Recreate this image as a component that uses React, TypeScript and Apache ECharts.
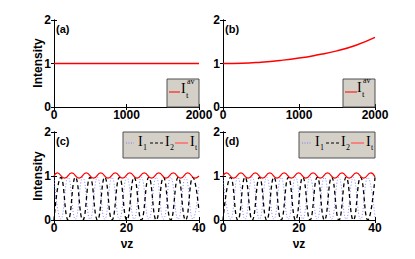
import React, { useEffect, useRef } from "react";
import * as echarts from "echarts";

// Panel (a): constant average intensity
const aX = [0, 500, 1000, 1500, 2000];
const aY = [1.0, 1.0, 1.0, 1.0, 1.0];
// Panel (b): slowly growing average intensity
const bX = [0, 250, 500, 750, 1000, 1250, 1500, 1750, 2000];
const bY = [1.0, 1.005, 1.03, 1.07, 1.125, 1.2, 1.29, 1.42, 1.6];

// Panel (c): I1 (dotted), I2 (dashed), It (solid), read at extrema
const cI1 = [[0, 0.97], [1.9, 0.02], [3.9, 0.97], [5.9, 0.02], [7.95, 0.97], [9.95, 0.02], [12.0, 0.97], [14.0, 0.02], [16.0, 0.97], [18.05, 0.02], [20.1, 0.97], [22.1, 0.02], [24.1, 0.97], [26.15, 0.02], [28.2, 0.97], [30.2, 0.02], [32.2, 0.97], [34.25, 0.02], [36.3, 0.97], [38.3, 0.02], [40, 0.8]];
const cI2 = [[0, 0.0], [1.9, 0.97], [3.9, 0.0], [5.9, 0.97], [7.95, 0.0], [9.95, 0.97], [12.0, 0.0], [14.0, 0.97], [16.0, 0.0], [18.05, 0.97], [20.1, 0.0], [22.1, 0.97], [24.1, 0.0], [26.15, 0.97], [28.2, 0.0], [30.2, 0.97], [32.2, 0.0], [34.25, 0.97], [36.3, 0.0], [38.3, 0.97], [40, 0.2]];
const cIt = [[0, 1.0], [0.9, 1.07], [2.9, 0.95], [4.9, 1.07], [6.9, 0.95], [8.9, 1.07], [10.9, 0.95], [12.9, 1.07], [14.9, 0.95], [16.9, 1.07], [18.9, 0.95], [20.9, 1.07], [22.9, 0.95], [24.9, 1.07], [26.9, 0.95], [28.9, 1.07], [30.9, 0.95], [32.9, 1.07], [34.9, 0.95], [36.9, 1.07], [38.9, 0.95], [40, 1.0]];

// Panel (d)
const dI1 = [[0, 0.97], [2.0, 0.02], [3.9, 0.97], [5.8, 0.02], [7.7, 0.97], [9.6, 0.02], [11.5, 0.97], [13.4, 0.02], [15.3, 0.97], [17.2, 0.02], [19.1, 0.97], [21.0, 0.02], [22.9, 0.97], [24.8, 0.02], [26.7, 0.97], [28.6, 0.02], [30.5, 0.97], [32.4, 0.02], [34.3, 0.97], [36.2, 0.02], [38.1, 0.97], [40, 0.05]];
const dI2 = [[0, 0.0], [2.0, 0.97], [3.9, 0.0], [5.8, 0.97], [7.7, 0.0], [9.6, 0.97], [11.5, 0.0], [13.4, 0.97], [15.3, 0.0], [17.2, 0.97], [19.1, 0.0], [21.0, 0.97], [22.9, 0.0], [24.8, 0.97], [26.7, 0.0], [28.6, 0.97], [30.5, 0.0], [32.4, 0.97], [34.3, 0.0], [36.2, 0.97], [38.1, 0.0], [40, 0.97]];
const dIt = [[0, 1.0], [0.9, 1.07], [2.8, 0.95], [4.7, 1.07], [6.6, 0.95], [8.5, 1.07], [10.4, 0.95], [12.3, 1.07], [14.2, 0.95], [16.1, 1.07], [18.0, 0.95], [19.9, 1.07], [21.8, 0.95], [23.7, 1.07], [25.6, 0.95], [27.5, 1.07], [29.4, 0.95], [31.3, 1.07], [33.2, 0.95], [35.1, 1.07], [37.0, 0.95], [38.9, 1.07], [40, 0.98]];

const yTicks = [0, 1, 2];
const xTopTicks = [0, 1000, 2000];
const xBotTicks = [0, 20, 40];

const grids = [
  { left: 54, top: 20, width: 145, height: 87 },
  { left: 223, top: 20, width: 152, height: 87 },
  { left: 54, top: 132, width: 145, height: 88 },
  { left: 223, top: 132, width: 152, height: 88 },
];

const SANS = "'Liberation Sans', Arial, sans-serif";
const SERIF = "'Liberation Serif', 'Times New Roman', serif";
const BLUE = "#7a7aff";

export default function App() {
  const ref = useRef<HTMLDivElement>(null);
  useEffect(() => {
    if (!ref.current) return;
    const chart = echarts.init(ref.current, undefined, { renderer: "svg" });
    const axisLine = { show: true, lineStyle: { color: "#000", width: 1 } };
    const tick = { show: true, inside: true, length: 3, lineStyle: { color: "#000" } };
    const lbl = { color: "#000", fontSize: 12, fontWeight: "bold" as const, fontFamily: SANS, margin: 2, showMaxLabel: true, showMinLabel: true, formatter: (v: number) => String(v) };
    const xAxes: any[] = [];
    const yAxes: any[] = [];
    for (let i = 0; i < 4; i++) {
      const ticks = i < 2 ? xTopTicks : xBotTicks;
      const base = { type: "value", gridIndex: i, min: ticks[0], max: ticks[2], interval: ticks[1] - ticks[0], splitLine: { show: false }, axisLine, axisTick: tick };
      xAxes.push({ ...base, position: "bottom", axisLabel: lbl });
      yAxes.push({ type: "value", gridIndex: i, min: yTicks[0], max: yTicks[2], interval: yTicks[1] - yTicks[0], splitLine: { show: false }, axisLine, axisTick: tick, position: "left", axisLabel: { ...lbl, margin: 3 } });
    }
    for (let i = 0; i < 4; i++) {
      const ticks = i < 2 ? xTopTicks : xBotTicks;
      xAxes.push({ type: "value", gridIndex: i, min: ticks[0], max: ticks[2], interval: ticks[1] - ticks[0], position: "top", splitLine: { show: false }, axisLine, axisTick: tick, axisLabel: { show: false } });
      yAxes.push({ type: "value", gridIndex: i, min: yTicks[0], max: yTicks[2], interval: yTicks[1] - yTicks[0], position: "right", splitLine: { show: false }, axisLine, axisTick: tick, axisLabel: { show: false } });
    }
    const line = (i: number, data: any, color: string, type: any, width: number, smooth = true) => ({
      type: "line", xAxisIndex: i, yAxisIndex: i, data, showSymbol: false, smooth, lineStyle: { color, type, width }, z: 3,
    });
    const series: any[] = [
      line(0, aX.map((x, k) => [x, aY[k]]), "#ff0000", "solid", 1.5, false),
      line(1, bX.map((x, k) => [x, bY[k]]), "#ff0000", "solid", 1.5, true),
      line(2, cI1, BLUE, [1, 2], 0.9),
      line(2, cI2, "#000000", [4, 3], 1.3),
      line(2, cIt, "#ff0000", "solid", 1.2),
      line(3, dI1, BLUE, [1, 2], 0.9),
      line(3, dI2, "#000000", [4, 3], 1.3),
      line(3, dIt, "#ff0000", "solid", 1.2),
    ];
    const txt = (x: number, y: number, text: string, size: number, family: string, weight = "normal", align = "left", rotation = 0) => ({
      type: "text", x, y, rotation, z: 100,
      style: { text, fontSize: size, fontFamily: family, fontWeight: weight, fill: "#000", textAlign: align, align, textVerticalAlign: "middle", verticalAlign: "middle" },
    });
    const box = (x: number, y: number, w: number, h: number) => ({
      type: "rect", z: 90, shape: { x, y, width: w, height: h }, style: { fill: "#d4d0c8", stroke: "#505050", lineWidth: 1 },
    });
    const seg = (x1: number, x2: number, y: number, color: string, dash: any, w: number) => ({
      type: "line", z: 95, shape: { x1, y1: y, x2, y2: y }, style: { stroke: color, lineWidth: w, lineDash: dash },
    });
    const graphic: any[] = [
      txt(38, 63, "Intensity", 12, SANS, "bold", "center", Math.PI / 2),
      txt(38, 176, "Intensity", 12, SANS, "bold", "center", Math.PI / 2),
      txt(56, 29, "(a)", 11, SANS, "bold"),
      txt(225, 29, "(b)", 11, SANS, "bold"),
      txt(56, 141, "(c)", 11, SANS, "bold"),
      txt(225, 141, "(d)", 11, SANS, "bold"),
      txt(127, 244, "νz", 12, SANS, "bold", "center"),
      txt(299, 244, "νz", 12, SANS, "bold", "center"),
      // legend (a)
      box(167, 79, 32, 28),
      seg(169, 180, 92, "#ff0000", null, 1),
      txt(181, 88, "I", 14, SERIF),
      txt(187, 81, "av", 8, SERIF),
      txt(186, 95, "t", 9, SERIF),
      // legend (b)
      box(343, 79, 32, 28),
      seg(345, 357, 92, "#ff0000", null, 1),
      txt(357, 87, "I", 14, SERIF),
      txt(363, 80, "av", 8, SERIF),
      txt(362, 94, "t", 9, SERIF),
      // legend (c)
      box(123, 132, 76, 26),
      seg(126, 134, 143, BLUE, [1, 1.5], 1),
      txt(138, 141, "I", 14, SERIF),
      txt(143, 147, "1", 8, SERIF),
      seg(150, 163, 143, "#000", [3, 2], 1),
      txt(165, 141, "I", 14, SERIF),
      txt(170, 147, "2", 8, SERIF),
      seg(175, 188, 143, "#ff6a6a", null, 1.5),
      txt(190, 141, "I", 14, SERIF),
      txt(195, 147, "t", 8, SERIF),
      // legend (d)
      box(299, 132, 76, 26),
      seg(302, 312, 143, BLUE, [1, 1.5], 1),
      txt(315, 141, "I", 14, SERIF),
      txt(320, 147, "1", 8, SERIF),
      seg(326, 339, 143, "#000", [3, 2], 1),
      txt(341, 141, "I", 14, SERIF),
      txt(346, 147, "2", 8, SERIF),
      seg(351, 364, 143, "#ff6a6a", null, 1.5),
      txt(366, 141, "I", 14, SERIF),
      txt(371, 147, "t", 8, SERIF),
    ];
    chart.setOption({
      animation: false,
      backgroundColor: "#fff",
      grid: grids.map((g) => ({ ...g, containLabel: false })),
      xAxis: xAxes,
      yAxis: yAxes,
      series,
      graphic,
    });
    return () => chart.dispose();
  }, []);
  return <div ref={ref} style={{ position: "fixed", left: 0, top: 0, width: 415, height: 259 }} />;
}
